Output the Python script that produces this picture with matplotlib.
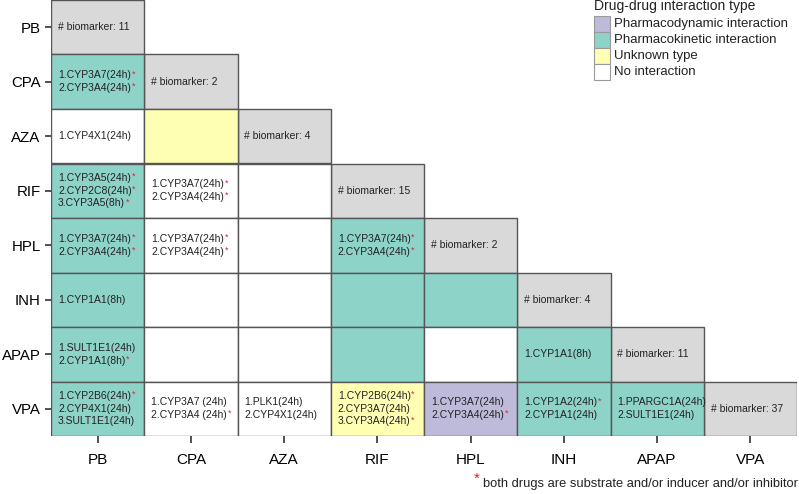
import matplotlib
matplotlib.use('Agg')
import matplotlib.pyplot as plt
from matplotlib.patches import Rectangle

plt.rcParams['font.family'] = ['Liberation Sans', 'DejaVu Sans']

drugs = ['PB', 'CPA', 'AZA', 'RIF', 'HPL', 'INH', 'APAP', 'VPA']
n_biomarker = [11, 2, 4, 15, 2, 4, 11, 37]

# interaction type, lower triangle, row by row (D=dynamic, K=kinetic, U=unknown, N=none)
ddi_type = [
    [],
    ['K'],
    ['N', 'U'],
    ['K', 'N', 'N'],
    ['K', 'N', 'N', 'K'],
    ['K', 'N', 'N', 'K', 'K'],
    ['K', 'N', 'N', 'K', 'N', 'K'],
    ['K', 'N', 'N', 'U', 'D', 'K', 'K'],
]

# gene lists per cell, '*' = both drugs substrate/inducer/inhibitor
ddi_genes = [
    [],
    [['1.CYP3A7(24h)*', '2.CYP3A4(24h)*']],
    [['1.CYP4X1(24h)'], []],
    [['1.CYP3A5(24h)*', '2.CYP2C8(24h)*', '3.CYP3A5(8h)*'], ['1.CYP3A7(24h)*', '2.CYP3A4(24h)*'], []],
    [['1.CYP3A7(24h)*', '2.CYP3A4(24h)*'], ['1.CYP3A7(24h)*', '2.CYP3A4(24h)*'], [], ['1.CYP3A7(24h)*', '2.CYP3A4(24h)*']],
    [['1.CYP1A1(8h)'], [], [], [], []],
    [['1.SULT1E1(24h)', '2.CYP1A1(8h)*'], [], [], [], [], ['1.CYP1A1(8h)']],
    [['1.CYP2B6(24h)*', '2.CYP4X1(24h)', '3.SULT1E1(24h)'], ['1.CYP3A7 (24h)', '2.CYP3A4 (24h)*'],
     ['1.PLK1(24h)', '2.CYP4X1(24h)'], ['1.CYP2B6(24h)*', '2.CYP3A7(24h)', '3.CYP3A4(24h)*'],
     ['1.CYP3A7(24h)', '2.CYP3A4(24h)*'], ['1.CYP1A2(24h)*', '2.CYP1A1(24h)'],
     ['1.PPARGC1A(24h)', '2.SULT1E1(24h)']],
]

legend_labels = ['Pharmacodynamic interaction', 'Pharmacokinetic interaction', 'Unknown type', 'No interaction']
legend_keys = ['D', 'K', 'U', 'N']
colors = {'D': '#bebada', 'K': '#8dd3c7', 'U': '#ffffb3', 'N': '#ffffff', 'diag': '#d9d9d9'}
edge = '#555555'
star_red = '#e0202a'

W, H = 799, 494
fig = plt.figure(figsize=(W / 100, H / 100), dpi=100)
ax = fig.add_axes([51 / W, (H - 436) / H, 746 / W, 436 / H])
ax.set_xlim(0, 8)
ax.set_ylim(8, 0)
for s in ax.spines.values():
    s.set_visible(False)

ax.set_xticks([i + 0.5 for i in range(8)])
ax.set_xticklabels(drugs, fontsize=11)
ax.set_yticks([i + 0.5 for i in range(8)])
ax.set_yticklabels(drugs, fontsize=10.8)
ax.tick_params(axis='both', length=4.5, width=1.2, color='#333333', pad=3)
ax.tick_params(axis='x', length=5, pad=7)

fs = 7.5
dx = 0.075
lsp = 0.23
lines_to_star = []

n = len(drugs)
for i in range(n):
    # diagonal
    ax.add_patch(Rectangle((i, i), 1, 1, facecolor=colors['diag'], edgecolor=edge, lw=1))
    ax.text(i + dx, i + 0.5, '# biomarker: %d' % n_biomarker[i], fontsize=fs, va='center', ha='left', color='#222222')
    for j in range(i):
        t = ddi_type[i][j]
        ax.add_patch(Rectangle((j, i), 1, 1, facecolor=colors[t], edgecolor=edge, lw=1))
        genes = ddi_genes[i][j]
        k = len(genes)
        for m, g in enumerate(genes):
            y = i + 0.5 + (m - (k - 1) / 2) * lsp
            star = g.endswith('*')
            txt = ax.text(j + dx, y, g.rstrip('*'), fontsize=fs, va='center', ha='left', color='#222222')
            if star:
                lines_to_star.append(txt)

fig.canvas.draw()
rend = fig.canvas.get_renderer()
inv = ax.transData.inverted()
for txt in lines_to_star:
    bb = txt.get_window_extent(rend)
    x, y = inv.transform((bb.x1 + 0.5, bb.y1 + 1))
    ax.text(x, y, '*', fontsize=6.5, color=star_red, ha='left', va='top')

# legend
def fx(px):
    return px / W

def fy(py):
    return 1 - py / H

fig.text(fx(594), fy(6), 'Drug-drug interaction type', fontsize=10, va='center', ha='left', color='#222222')
for k, (key, lab) in enumerate(zip(legend_keys, legend_labels)):
    top = 16 + 16 * k
    fig.add_artist(Rectangle((fx(594), fy(top + 16)), 16 / W, 16 / H, facecolor=colors[key],
                             edgecolor='#999999', lw=0.8, transform=fig.transFigure))
    fig.text(fx(614), fy(top + 8), lab, fontsize=9.5, va='center', ha='left', color='#222222')

fig.text(fx(474), fy(479), '*', fontsize=11, color=star_red, va='center', ha='left')
fig.text(fx(483), fy(484), 'both drugs are substrate and/or inducer and/or inhibitor', fontsize=9.3,
         va='center', ha='left', color='#222222')

fig.savefig('out.png', dpi=100)
